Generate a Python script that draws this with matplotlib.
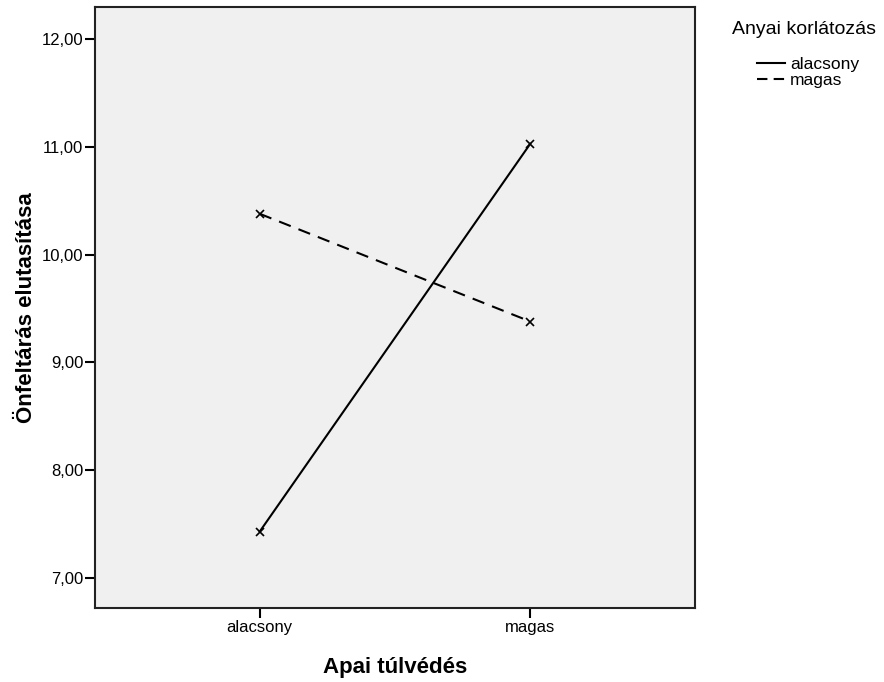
import matplotlib
matplotlib.use('Agg')
import matplotlib.pyplot as plt

plt.rcParams['font.family'] = ['Liberation Sans', 'DejaVu Sans']

# Apai túlvédés categories
categories = ['alacsony', 'magas']
# Anyai korlátozás groups
groups = ['alacsony', 'magas']
means_low = [7.43, 11.03]
means_high = [10.38, 9.38]
yticks = [7.0, 8.0, 9.0, 10.0, 11.0, 12.0]

W, H = 884, 682
fig = plt.figure(figsize=(W / 100, H / 100), dpi=100)
ax = fig.add_axes([95 / W, 1 - 608 / H, (695 - 95) / W, (608 - 7) / H])
ax.set_facecolor('#f0f0f0')

x = list(range(len(categories)))
ax.plot(x, means_low, color='black', linestyle='-', linewidth=1.5,
        marker='x', markersize=6, markeredgewidth=1.2, label=groups[0])
ax.plot(x, means_high, color='black', linestyle=(0, (6, 4)), linewidth=1.5,
        marker='x', markersize=6, markeredgewidth=1.2, label=groups[1])

ax.set_xlim(-0.609, 1.609)
ax.set_ylim(6.72, 12.3)
ax.set_xticks(x)
ax.set_xticklabels(categories, fontsize=12)
ax.set_yticks(yticks)
ax.set_yticklabels([f'{v:.2f}'.replace('.', ',') for v in yticks], fontsize=12)
ax.tick_params(direction='out', length=7, width=1.5, color='black', pad=1.5)
for s in ax.spines.values():
    s.set_linewidth(1.5)
    s.set_color('#222222')

ax.set_xlabel('Apai túlvédés', fontsize=16, fontweight='bold', labelpad=16)
ax.set_ylabel('Önfeltárás elutasítása', fontsize=16, fontweight='bold', labelpad=3)

fig.text(732 / W, 1 - 30 / H, 'Anyai korlátozás', fontsize=14, va='center', ha='left')
leg = fig.legend(loc='upper left', bbox_to_anchor=(757 / W, 1 - 57 / H), frameon=False,
                 fontsize=12.5, handlelength=1.6, handletextpad=0.3,
                 labelspacing=0.05, borderpad=0, borderaxespad=0)
for h in leg.legend_handles:
    h.set_marker('')
    h.set_linewidth(1.5)
    h.set_linestyle(h.get_linestyle())
leg.legend_handles[1].set_dashes((5, 3))

fig.savefig('out.png', dpi=100)
